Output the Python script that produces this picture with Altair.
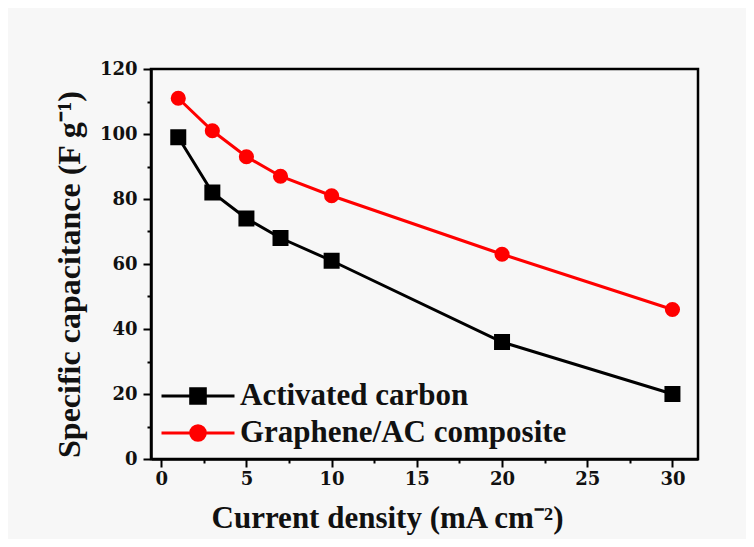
import altair as alt
import pandas as pd

current_density = [1, 3, 5, 7, 10, 20, 30]
activated_carbon = [99, 82, 74, 68, 61, 36, 20]
graphene_ac = [111, 101, 93, 87, 81, 63, 46]
series_names = ["Activated carbon", "Graphene/AC composite"]
series_colors = ["#000000", "#ff0000"]
x_ticks = [0, 2.5, 5, 7.5, 10, 12.5, 15, 17.5, 20, 22.5, 25, 27.5, 30]
y_ticks = [0, 10, 20, 30, 40, 50, 60, 70, 80, 90, 100, 110, 120]

rows = []
for name, vals in zip(series_names, [activated_carbon, graphene_ac]):
    for xv, yv in zip(current_density, vals):
        rows.append({"series": name, "x": xv, "y": yv})
df = pd.DataFrame(rows)

FONT = "DejaVu Serif"
SERIF = "Liberation Serif"

x_enc = alt.X(
    "x:Q",
    scale=alt.Scale(domain=[-0.6, 31.5], nice=False, zero=False),
    axis=alt.Axis(
        values=x_ticks,
        labelExpr="datum.value % 5 === 0 ? datum.label : ''",
        tickSize={"condition": {"test": "datum.value % 5 === 0", "value": 8}, "value": 4},
        title="Current density (mA cm⁻²)",
        titleFont=SERIF, titleFontSize=31,
        titleX=236, titleY=68, titleAlign="center", titleBaseline="alphabetic",
        labelPadding=3,
        grid=False,
    ),
)
y_enc = alt.Y(
    "y:Q",
    scale=alt.Scale(domain=[0, 120], nice=False),
    axis=alt.Axis(
        values=y_ticks,
        labelExpr="datum.value % 20 === 0 ? datum.label : ''",
        tickSize={"condition": {"test": "datum.value % 20 === 0", "value": 8}, "value": 4},
        title="Specific capacitance (F g⁻¹)",
        titleFont=SERIF, titleFontSize=32,
        titleX=-72, titleY=205, titleAlign="center", titleBaseline="alphabetic",
        labelPadding=6,
        grid=False,
    ),
)

square_path = "M-1,0H1M-0.2,-0.2H0.2V0.2H-0.2Z"
circle_path = "M-1,0H1M0.2,0A0.2,0.2,0,1,1,-0.2,0A0.2,0.2,0,1,1,0.2,0Z"


def series_layer(name, color, shape, size, symbol_path, ly):
    base = alt.Chart(df).transform_filter(alt.datum.series == name)
    color_enc = alt.Color(
        "series:N",
        scale=alt.Scale(domain=[name], range=[color]),
        legend=alt.Legend(
            orient="none", legendX=9, legendY=ly, title=None,
            symbolType=symbol_path, symbolSize=5329, symbolStrokeWidth=3,
            symbolFillColor=color, symbolStrokeColor=color, symbolOpacity=1,
            labelFont=SERIF, labelFontSize=31, labelFontWeight="bold",
            labelColor="#111111", labelOffset=4, labelLimit=0, padding=0,
        ),
    )
    line = base.mark_line(strokeWidth=3).encode(x=x_enc, y=y_enc, color=color_enc)
    pts = base.mark_point(shape=shape, filled=True, size=size, opacity=1).encode(
        x=x_enc, y=y_enc, color=color_enc
    )
    return alt.layer(line, pts)


layer_ac = series_layer(series_names[0], series_colors[0], "square", 256, square_path, 289)
layer_gr = series_layer(series_names[1], series_colors[1], "circle", 230, circle_path, 326)

chart = (
    alt.layer(layer_ac, layer_gr)
    .resolve_scale(color="independent")
    .properties(
        width=547, height=390,
        autosize=alt.AutoSizeParams(type="none"),
        padding={"left": 143, "top": 61, "right": 48, "bottom": 80},
        background="#f7f7f7",
    )
    .configure_view(stroke="black", strokeWidth=2.5)
    .configure_axis(
        domainColor="black", domainWidth=2.5,
        tickColor="black", tickWidth=2,
        labelFont=FONT, labelFontSize=18, labelFontWeight="bold", labelColor="#111111",
        titleFontWeight="bold", titleColor="#111111",
    )
)

chart.save("out.html", embed_options={"renderer": "svg", "actions": False})
